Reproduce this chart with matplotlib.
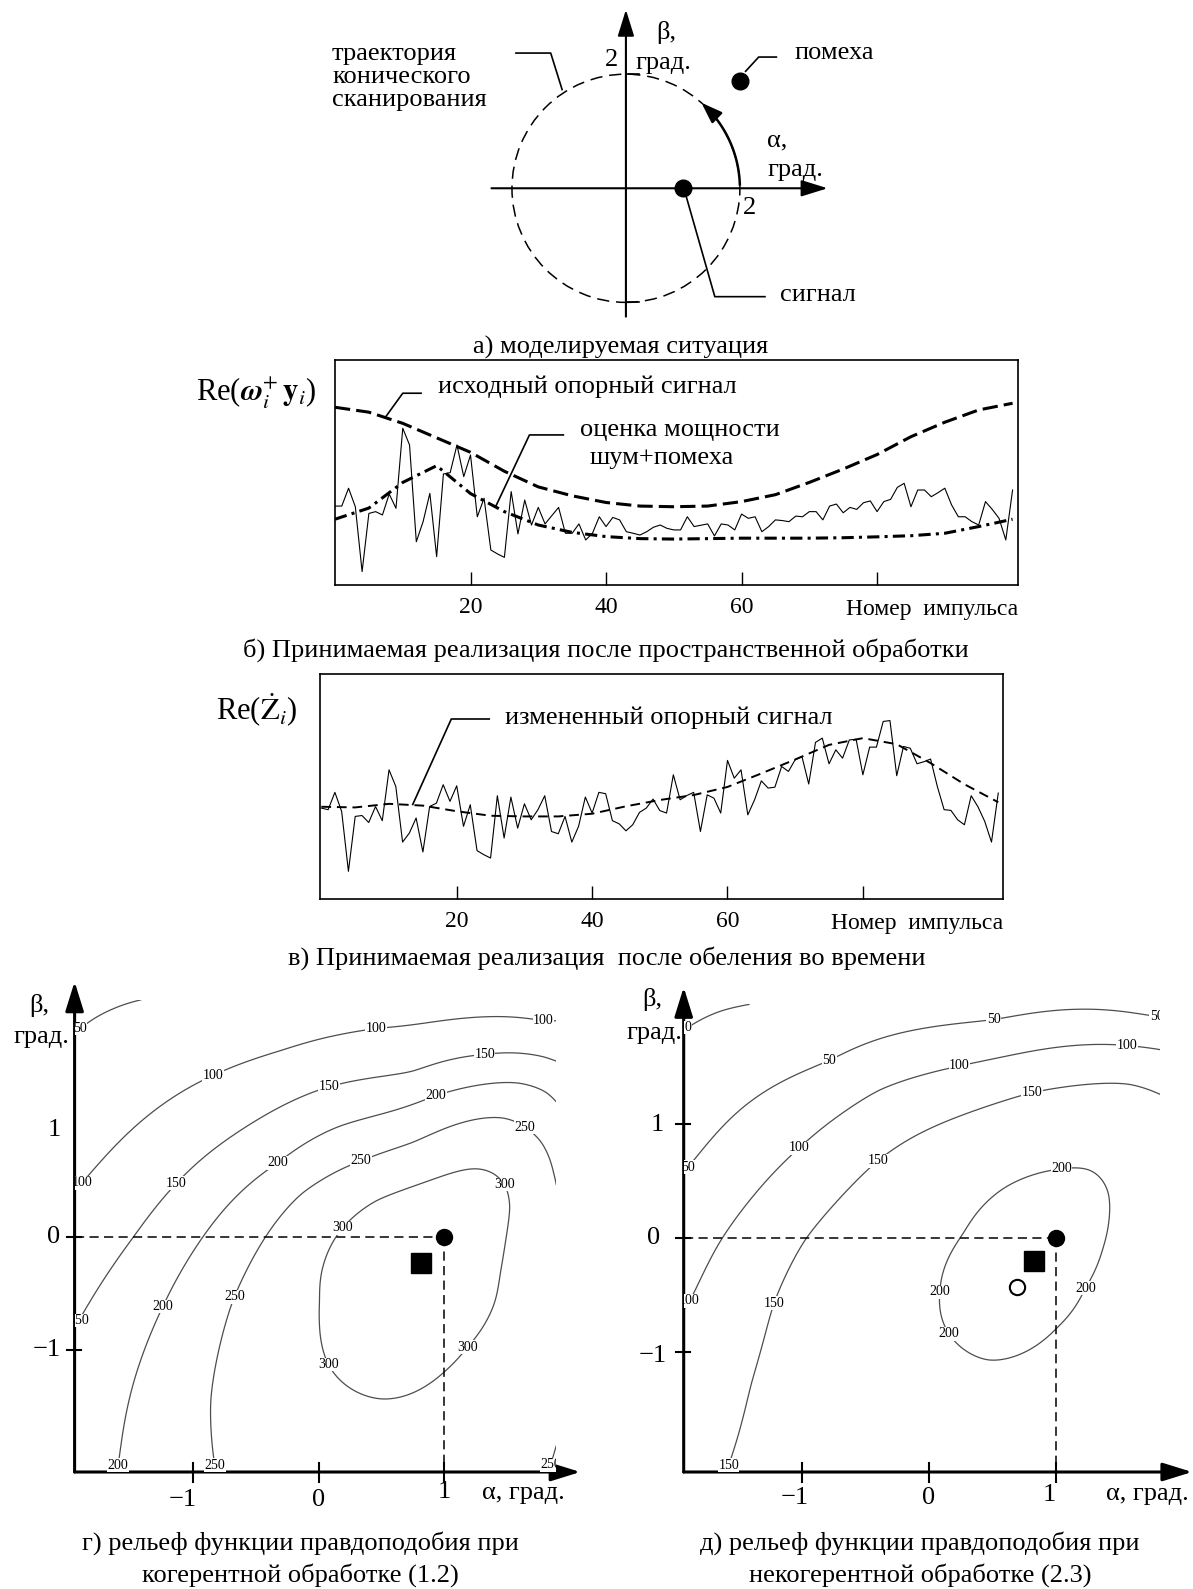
import numpy as np
import matplotlib
matplotlib.use('Agg')
import matplotlib.pyplot as plt
from matplotlib.patches import Circle

plt.rcParams['font.family'] = ['Liberation Serif', 'DejaVu Serif']
plt.rcParams['mathtext.fontset'] = 'stix'

# ---------------- data ----------------
pulse_idx = np.arange(0, 101)
ref_idx = np.arange(0, 101, 5)

# б) after spatial processing
b_received = [35.4, 35.4, 43.4, 35.1, 6.0, 32.1, 32.9, 31.4, 40.8, 34.4,
              70.3, 62.8, 19.4, 28.4, 41.1, 12.7, 49.8, 50.4, 62.8, 48.6,
              58.3, 30.6, 38.9, 15.7, 13.9, 12.4, 41.9, 22.9, 38.1, 26.9,
              34.8, 27.4, 31.1, 34.8, 23.2, 23.2, 27.4, 20.2, 23.2, 30.6,
              26.2, 30.3, 29.2, 23.9, 23.2, 22.4, 23.9, 25.9, 26.9, 25.4,
              24.7, 24.7, 30.6, 26.2, 26.8, 27.4, 22.0, 27.4, 26.9, 24.7,
              31.8, 29.9, 30.6, 23.9, 26.2, 29.2, 28.9, 28.4, 30.9, 30.6,
              32.9, 32.9, 29.2, 35.4, 36.3, 32.4, 34.8, 33.9, 36.9, 37.7,
              32.9, 37.4, 38.4, 43.8, 45.6, 35.1, 42.6, 42.6, 39.6, 41.4,
              43.4, 35.9, 30.6, 30.6, 28.4, 26.9, 37.4, 33.9, 29.9, 20.2, 42.6]
b_reference = [79.7, 77.5, 72.5, 66.0, 59.5, 51.0, 44.0, 40.0, 37.0, 35.4, 35.1,
               35.4, 37.4, 40.5, 46.0, 52.0, 58.5, 66.5, 73.0, 78.5, 81.5]
b_noise_power = [29.5, 34.5, 46.0, 53.5, 41.0, 32.9, 26.9, 23.6, 21.7, 20.8, 20.6,
                 20.8, 21.0, 21.0, 21.0, 21.2, 21.6, 22.1, 23.2, 26.2, 29.5]

# в) after temporal whitening
v_received = [40.4, 39.7, 47.4, 38.9, 12.3, 36.7, 37.1, 34.0, 41.1, 34.8,
              57.4, 50.0, 25.3, 29.3, 36.0, 20.9, 41.1, 42.6, 50.8, 43.4,
              50.3, 32.3, 41.9, 21.5, 19.7, 18.2, 45.9, 27.1, 45.3, 31.5,
              42.3, 35.2, 39.7, 45.9, 30.0, 29.0, 36.7, 25.3, 32.3, 45.3,
              38.2, 47.4, 46.8, 34.8, 33.4, 30.3, 33.0, 38.5, 40.4, 44.4,
              39.3, 38.2, 55.2, 44.1, 46.0, 47.4, 30.0, 46.3, 44.8, 38.2,
              61.6, 53.7, 57.4, 37.4, 44.1, 52.5, 49.3, 49.7, 58.9, 56.7,
              61.9, 63.3, 51.1, 69.6, 71.5, 60.1, 66.3, 62.6, 70.7, 71.0,
              55.2, 67.5, 67.5, 78.9, 79.3, 54.8, 67.8, 67.0, 60.1, 61.0,
              62.2, 50.0, 39.7, 39.4, 35.2, 33.0, 45.9, 41.0, 34.5, 25.3, 47.1]
v_reference = [41.0, 40.7, 42.3, 41.5, 39.0, 37.0, 36.7, 36.7, 37.9, 41.2, 44.0,
               46.2, 49.8, 55.8, 62.0, 68.5, 71.5, 68.8, 60.4, 51.0, 43.0]

# а) scene, degrees
scan_radius = 2.0
signal_pos = (1.0, 0.0)
jammer_pos = (2.0, 1.88)

# г) coherent relief: points traced on contour lines (alpha, beta)
coh_levels = [50, 100, 150, 200, 250, 300]
coh_300 = [(1.25, 0.61), (0.456, 0.33), (0.155, 0.03), (0.02, -0.32), (0.016, -0.56),
           (0.007, -0.76), (0.075, -1.13), (0.50, -1.44), (1.0, -1.19), (1.18, -0.97),
           (1.41, -0.56), (1.44, -0.32), (1.53, 0.27), (1.50, 0.45)]
coh_250 = [(-0.83, -2.02), (-0.86, -1.44), (-0.68, -0.55), (-0.44, -0.03), (-0.14, 0.39),
           (0.34, 0.67), (0.75, 0.83), (1.47, 1.06), (1.77, 0.86), (1.86, 0.56),
           (1.89, 0.1), (1.84, -2.02)]
coh_200 = [(-1.59, -2.02), (-1.24, -0.62), (-0.92, 0.0), (-0.32, 0.65), (0.155, 0.98),
           (0.93, 1.26), (1.59, 1.37), (1.83, 1.30), (1.89, 1.15)]
coh_150 = [(-1.90, -0.73), (-1.47, 0.0), (-1.13, 0.475), (0.08, 1.33), (0.75, 1.45),
           (1.32, 1.61), (1.80, 1.60), (1.89, 1.54)]
coh_100 = [(-1.87, 0.49), (-0.84, 1.43), (-0.29, 1.65), (0.456, 1.85), (1.78, 1.89)]
coh_50 = [(-1.875, 1.85), (-1.52, 2.07)]
coh_extra = [(0.78, -0.42, 330), (0.2, -1.9, 282), (1.0, -1.9, 280), (1.8, -1.0, 265),
             (-1.94, 2.1, 42), (1.89, 2.1, 85)]
coh_label_pos = [(-0.84, 1.43), (0.456, 1.85), (1.785, 1.89), (0.08, 1.33), (1.32, 1.61),
                 (-1.13, 0.475), (0.93, 1.26), (-0.32, 0.65), (-1.23, -0.62), (-1.59, -2.02),
                 (0.34, 0.67), (1.66, 1.0), (-0.65, -0.54), (-0.83, -2.02), (1.86, -2.02),
                 (0.28, 0.0), (1.47, 0.46), (1.18, -0.97), (0.075, -1.13),
                 (-1.89, 0.49), (-1.92, -0.73), (-1.9, 1.85)]

# д) incoherent relief
inc_levels = [0, 50, 100, 150, 200]
inc_200 = [(1.043, 0.596), (1.27, 0.61), (1.42, 0.39), (1.36, -0.1), (1.22, -0.43),
           (1.0, -0.78), (0.47, -1.085), (0.157, -0.84), (0.093, -0.47), (0.284, 0.04),
           (0.60, 0.45)]
inc_150 = [(-0.405, 0.68), (0.81, 1.28), (1.575, 1.36), (1.82, 1.26), (-0.976, -0.01),
           (-1.225, -0.57), (-1.40, -1.27), (-1.58, -1.99)]
inc_100 = [(-1.87, -0.54), (-1.64, -0.02), (-1.02, 0.79), (-0.40, 1.30), (0.24, 1.51),
           (1.56, 1.69), (1.82, 1.66)]
inc_50 = [(-1.886, 0.625), (-1.46, 1.15), (-0.78, 1.55), (0.51, 1.91), (1.79, 1.93)]
inc_0 = [(-1.886, 1.85), (-1.63, 2.0)]
inc_extra = [(0.75, -0.25, 212), (1.7, -1.2, 185), (0.6, -1.9, 180), (-0.5, -1.9, 170),
             (1.7, -1.9, 175), (1.8, 0.3, 185), (-1.93, 2.05, -10)]
inc_label_pos = [(-0.78, 1.55), (0.51, 1.91), (1.79, 1.93), (-1.9, 0.625), (-1.02, 0.79),
                 (0.24, 1.51), (1.56, 1.69), (-1.9, -0.54), (-0.405, 0.68), (0.81, 1.28),
                 (-1.225, -0.57), (-1.58, -1.99), (1.043, 0.6), (1.22, -0.43),
                 (0.093, -0.47), (0.157, -0.84), (-1.9, 1.85)]
coh_estimate = (0.81, -0.23)
inc_estimate = (0.83, -0.20)
inc_estimate2 = (0.69, -0.43)

# ---------------- figure ----------------
W, H = 1193, 1589
fig = plt.figure(figsize=(W / 100, H / 100), dpi=100)
FS = 19


def px_axes(x0, y0, x1, y1):
    return fig.add_axes([x0 / W, 1 - y1 / H, (x1 - x0) / W, (y1 - y0) / H])


def ptext(x, y, s, size=FS, **kw):
    kw.setdefault('va', 'center')
    fig.text(x / W, 1 - y / H, s, fontsize=size, **kw)


def arrow(ax, start, end, lw=1.5, ms=18):
    ax.annotate('', xy=end, xytext=start, annotation_clip=False,
                arrowprops=dict(arrowstyle='-|>,head_length=0.9,head_width=0.28',
                                lw=lw, color='k', mutation_scale=ms,
                                shrinkA=0, shrinkB=0))


# ---- а) scene ----
axa = px_axes(300, 0, 900, 360)
axa.set_xlim(-5.72, 4.81)
axa.set_ylim(-3.01, 3.30)
axa.axis('off')
axa.add_patch(Circle((0, 0), scan_radius, fill=False, lw=1.1, color='k',
                     ls=(0, (8, 4.5))))
arrow(axa, (0, -2.25), (0, 3.13))
arrow(axa, (-2.36, 0), (3.54, 0))
axa.plot([0, 0.23], [scan_radius, scan_radius], 'k', lw=1.2)
axa.plot([0, 0.23], [-scan_radius, -scan_radius], 'k', lw=1.2)
arc = np.radians(np.linspace(2, 45, 50))
axa.plot(scan_radius * np.cos(arc), scan_radius * np.sin(arc), 'k', lw=1.8)
a0, a1 = np.radians(44), np.radians(48.5)
axa.annotate('', xy=(scan_radius * np.cos(a1), scan_radius * np.sin(a1)),
             xytext=(scan_radius * np.cos(a0), scan_radius * np.sin(a0)),
             arrowprops=dict(arrowstyle='-|>,head_length=0.9,head_width=0.32',
                             lw=1.8, color='k', mutation_scale=14, shrinkA=0, shrinkB=0))
axa.plot(*signal_pos, 'ko', ms=12)
axa.plot(*jammer_pos, 'ko', ms=12)
axa.plot([-1.93, -1.32, -1.12], [2.37, 2.37, 1.73], 'k', lw=1.2)
axa.plot([2.1, 2.33, 2.64], [2.05, 2.3, 2.3], 'k', lw=1.2)
axa.plot([1.06, 1.56, 2.44], [-0.15, -1.9, -1.9], 'k', lw=1.2)

ptext(332, 77, 'траектория\nконического\nсканирования', linespacing=1.05)
ptext(611, 60, '2', ha='center')
ptext(666, 33, 'β,', ha='center')
ptext(663, 63, 'град.', ha='center')
ptext(794, 53, 'помеха')
ptext(767, 140, 'α,')
ptext(767, 170, 'град.')
ptext(750, 208, '2', ha='center')
ptext(780, 295, 'сигнал')
ptext(621, 347, 'а) моделируемая ситуация', ha='center')


# ---- б), в) pulse trains ----
def pulse_axes(rect, xlim, ylim):
    ax = px_axes(*rect)
    ax.set_xlim(*xlim)
    ax.set_ylim(*ylim)
    for s in ax.spines.values():
        s.set_linewidth(1.2)
    ax.set_yticks([])
    ax.set_xticks([20, 40, 60, 80])
    ax.set_xticklabels(['20', '40', '60', ''], fontsize=17)
    ax.tick_params(axis='x', direction='in', length=9.5, width=1.0, pad=8.5)
    ax.text(1.0, -0.111, 'Номер  импульса', transform=ax.transAxes, ha='right',
            va='center', fontsize=17)
    return ax


axb = pulse_axes((335, 360, 1018, 585), (0, 100.8), (0, 100.9))
axb.plot(pulse_idx, b_received, 'k', lw=0.8)
axb.plot(ref_idx, b_reference, 'k', lw=2.2, dashes=(5, 2))
axb.plot(ref_idx, b_noise_power, 'k', lw=2.2, dashes=(4, 1.7, 1, 1.7))
axb.plot([12.7, 10.0, 7.5], [86.0, 86.0, 75.5], 'k', lw=1.2, clip_on=False)
axb.plot([33.7, 28.7, 23.7], [67.3, 67.3, 35.1], 'k', lw=1.2, clip_on=False)
ptext(316, 393, r'Re($\boldsymbol{\omega}_i^{+}\,\mathbf{y}_i$)', size=22, ha='right')
ptext(438, 387, 'исходный опорный сигнал')
ptext(680, 430, 'оценка мощности', ha='center')
ptext(662, 458, 'шум+помеха', ha='center')
ptext(606, 650, 'б) Принимаемая реализация после пространственной обработки', ha='center')

axv = pulse_axes((320, 674, 1003, 899), (-0.2, 100.7), (0, 100))
axv.plot(pulse_idx, v_received, 'k', lw=0.8)
axv.plot(ref_idx, v_reference, 'k', lw=1.4, dashes=(5, 3))
axv.plot([24.8, 19.2, 13.5], [80.0, 80.0, 42.0], 'k', lw=1.2, clip_on=False)
ptext(297, 710, r'Re($\dot{\mathrm{Z}}_i$)', size=22, ha='right')
ptext(505, 718, 'измененный опорный сигнал')
ptext(607, 958, 'в) Принимаемая реализация  после обеления во времени', ha='center')


# ---- г), д) likelihood reliefs ----
def tps_surface(px, py, pz, gx, gy, smooth):
    px, py, pz = (np.asarray(v, float) for v in (px, py, pz))
    n = len(px)

    def kern(d):
        return np.where(d > 0, d ** 2 * np.log(np.maximum(d, 1e-12)), 0.0)

    d = np.hypot(px[:, None] - px[None, :], py[:, None] - py[None, :])
    A = np.zeros((n + 3, n + 3))
    A[:n, :n] = kern(d) + smooth * np.eye(n)
    P = np.column_stack([np.ones(n), px, py])
    A[:n, n:] = P
    A[n:, :n] = P.T
    sol = np.linalg.solve(A, np.concatenate([pz, np.zeros(3)]))
    GX, GY = np.meshgrid(gx, gy)
    gd = np.hypot(GX.ravel()[:, None] - px, GY.ravel()[:, None] - py)
    Z = kern(gd) @ sol[:n] + sol[n] + sol[n + 1] * GX.ravel() + sol[n + 2] * GY.ravel()
    return GX, GY, Z.reshape(GX.shape)


def samples(level_sets, extra):
    xs, ys, zs = [], [], []
    for lev, pts in level_sets:
        for a, b in pts:
            xs.append(a); ys.append(b); zs.append(lev)
    for a, b, z in extra:
        xs.append(a); ys.append(b); zs.append(z)
    return xs, ys, zs


def relief(rect, xlim, ylim, tips, sets, extra, levels, label_pos, yticks):
    ax = px_axes(*rect)
    ax.set_xlim(*xlim)
    ax.set_ylim(*ylim)
    ax.axis('off')
    xs, ys, zs = samples(sets, extra)
    gx = np.linspace(xlim[0], xlim[1], 260)
    gy = np.linspace(ylim[0], ylim[1], 280)
    GX, GY, Z = tps_surface(xs, ys, zs, gx, gy, 0.05)
    cs = ax.contour(GX, GY, Z, levels=levels, colors='0.3', linewidths=0.9)
    ax.clabel(cs, fontsize=10, inline=False, fmt='%d', colors='k', manual=label_pos)
    for t in cs.labelTexts:
        t.set_rotation(0)
        t.set_bbox(dict(facecolor='white', edgecolor='none', pad=0.3))
    x0, y0 = xlim[0], ylim[0]
    arrow(ax, (x0, y0), (x0, tips[1]), lw=2.2, ms=20)
    arrow(ax, (x0, y0), (tips[0], y0), lw=2.2, ms=20)
    for a in (-1, 0, 1):
        ax.plot([a, a], [y0 - 0.09, y0 + 0.08], 'k', lw=1.5, clip_on=False)
    for b in yticks:
        ax.plot([x0 - 0.06, x0 + 0.05], [b, b], 'k', lw=1.5, clip_on=False)
    ax.plot([x0, 1.0], [0, 0], 'k', lw=1.1, dashes=(6, 3.5))
    ax.plot([1.0, 1.0], [0, y0], 'k', lw=1.1, dashes=(6, 3.5))
    ax.plot(1.0, 0.0, 'ko', ms=11.5, zorder=5)
    return ax


axg = relief((74.6, 999.7, 556.4, 1472), (-1.94, 1.89), (-2.08, 2.1), (2.08, 2.26),
             [(300, coh_300), (250, coh_250), (200, coh_200), (150, coh_150),
              (100, coh_100), (50, coh_50)], coh_extra, coh_levels, coh_label_pos, [0, -1])
axg.plot(*coh_estimate, 'ks', ms=14, zorder=5)
for x, y, s in [(-2.10, 0.95, '1'), (-2.11, 0.0, '0'), (-2.16, -1.0, '−1'),
                (-1.08, -2.33, '−1'), (0.0, -2.33, '0'), (1.0, -2.26, '1'),
                (1.63, -2.27, 'α, град.'), (-2.22, 2.05, 'β,'), (-2.2, 1.77, 'град.')]:
    axg.text(x, y, s, ha='center', va='center', fontsize=FS, clip_on=False)
ptext(300, 1543, 'г) рельеф функции правдоподобия при', ha='center')
ptext(300, 1575, 'когерентной обработке (1.2)', ha='center')

axd = relief((683.7, 1004.3, 1160.3, 1472), (-1.93, 1.82), (-2.05, 2.05), (2.07, 2.2),
             [(200, inc_200), (150, inc_150), (100, inc_100), (50, inc_50), (0, inc_0)],
             inc_extra, inc_levels, inc_label_pos, [1, 0, -1])
axd.plot(*inc_estimate, 'ks', ms=14, zorder=5)
axd.plot(*inc_estimate2, 'o', ms=11, mfc='white', mec='k', mew=1.5, zorder=5)
for x, y, s in [(-2.14, 0.99, '1'), (-2.17, 0.0, '0'), (-2.17, -1.03, '−1'),
                (-1.06, -2.28, '−1'), (0.0, -2.28, '0'), (0.95, -2.25, '1'),
                (1.72, -2.24, 'α, град.'), (-2.18, 2.09, 'β,'), (-2.16, 1.8, 'град.')]:
    axd.text(x, y, s, ha='center', va='center', fontsize=FS, clip_on=False)
ptext(920, 1543, 'д) рельеф функции правдоподобия при', ha='center')
ptext(920, 1575, 'некогерентной обработке (2.3)', ha='center')

fig.savefig('out.png', dpi=100, facecolor='white')
